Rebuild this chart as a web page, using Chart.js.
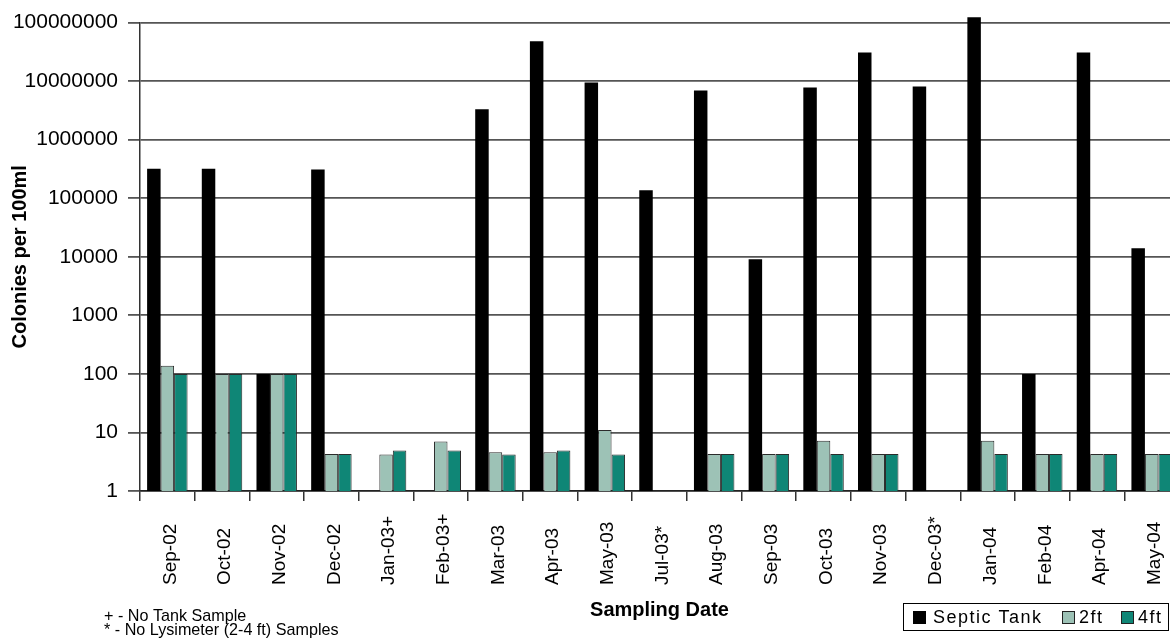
<!DOCTYPE html>
<html>
<head>
<meta charset="utf-8">
<script src="https://cdn.jsdelivr.net/npm/chart.js@4"></script>
<style>
  html, body { margin: 0; padding: 0; background: #fff; overflow: hidden; }
  #wrap { width: 1180px; height: 639px; }
</style>
</head>
<body>
<div id="wrap"><canvas id="myChart"></canvas></div>
<script>
// sampling dates (+ = no tank sample, * = no lysimeter samples)
var dates = ['Sep-02', 'Oct-02', 'Nov-02', 'Dec-02', 'Jan-03+', 'Feb-03+', 'Mar-03', 'Apr-03', 'May-03',
    'Jul-03*', 'Aug-03', 'Sep-03', 'Oct-03', 'Nov-03', 'Dec-03*', 'Jan-04', 'Feb-04', 'Apr-04', 'May-04'];

var septicTank = [320000, 320000, 100, 310000, null, null, 3300000, 48000000, 9500000,
    137000, 6900000, 9100, 7800000, 31000000, 8100000, 123000000, 100, 31000000, 14000];
var ft2 = [138, 100, 100, 4.3, 4.2, 7.0, 4.6, 4.6, 11,
    null, 4.3, 4.3, 7.2, 4.3, null, 7.2, 4.3, 4.3, 4.3];
var ft4 = [100, 100, 100, 4.3, 4.9, 4.9, 4.2, 4.9, 4.2,
    null, 4.3, 4.3, 4.3, 4.3, null, 4.3, 4.3, 4.3, 4.3];

var yTicks = [1, 10, 100, 1000, 10000, 100000, 1000000, 10000000, 100000000];
var notes = ['+ - No Tank Sample', '* - No Lysimeter (2-4 ft) Samples'];

// rotated date labels, lined up at the bottom like the original
var dateLabels = {
    id: 'dateLabels',
    afterDraw: function(chart) {
        var ctx = chart.ctx;
        var xs = chart.scales.x;
        ctx.save();
        ctx.fillStyle = '#000';
        ctx.font = '19px "Liberation Sans", Arial, sans-serif';
        ctx.textAlign = 'left';
        ctx.textBaseline = 'middle';
        chart.data.labels.forEach(function(lab, i) {
            ctx.save();
            ctx.translate(xs.getPixelForTick(i) + 3, 585);
            ctx.rotate(-Math.PI / 2);
            ctx.fillText(lab, 0, 0);
            ctx.restore();
        });
        ctx.restore();
    }
};

// footnotes and boxed legend
var extras = {
    id: 'extras',
    afterDraw: function(chart) {
        var ctx = chart.ctx;
        ctx.save();
        ctx.fillStyle = '#000';
        ctx.textBaseline = 'middle';
        // narrow look for the footnotes
        ctx.save();
        ctx.translate(104, 0);
        ctx.scale(0.95, 1);
        ctx.font = '17px "Liberation Sans", sans-serif';
        ctx.fillText(notes[0], 0, 616);
        ctx.fillText(notes[1], 0, 630);
        ctx.restore();

        ctx.strokeStyle = '#000';
        ctx.lineWidth = 1;
        ctx.strokeRect(903.5, 603.5, 265, 27);
        ctx.font = '18px "Liberation Sans", Arial, sans-serif';
        ctx.letterSpacing = '1.5px';
        var xPos = [913, 1062, 1121];
        chart.data.datasets.forEach(function(ds, i) {
            ctx.fillStyle = ds.backgroundColor;
            ctx.fillRect(xPos[i], 611, 13, 13);
            if (ds.borderWidth) {
                ctx.strokeStyle = '#222';
                ctx.strokeRect(xPos[i] + 0.5, 611.5, 12, 12);
            }
            ctx.fillStyle = '#000';
            ctx.fillText(ds.label, xPos[i] + (i === 0 ? 20 : 17), 618);
        });
        ctx.restore();
    }
};

var ctx = document.getElementById('myChart').getContext('2d');
var myChart = new Chart(ctx, {
    type: 'bar',
    data: {
        labels: dates,
        datasets: [{
            label: 'Septic Tank',
            data: septicTank,
            backgroundColor: '#000000',
            borderWidth: 0,
            clip: false
        }, {
            label: '2ft',
            data: ft2,
            backgroundColor: '#9dc2b6',
            borderColor: '#2b2b2b',
            borderWidth: 1
        }, {
            label: '4ft',
            data: ft4,
            backgroundColor: '#0f8676',
            borderColor: '#2b2b2b',
            borderWidth: 1
        }]
    },
    options: {
        responsive: true,
        maintainAspectRatio: false,
        animation: false,
        categoryPercentage: 0.74,
        barPercentage: 1,
        layout: { padding: { top: 22, right: 1, bottom: 0, left: 0 } },
        plugins: {
            legend: { display: false },
            tooltip: { enabled: false }
        },
        scales: {
            x: {
                ticks: { display: false },
                grid: {
                    offset: true,
                    drawOnChartArea: false,
                    tickLength: 10,
                    color: '#333',
                    lineWidth: 1.5
                },
                border: { color: '#222', width: 1.5 },
                title: {
                    display: true,
                    text: 'Sampling Date',
                    color: '#000',
                    font: { family: '"Liberation Sans", Arial, sans-serif', size: 20, weight: 'bold' },
                    padding: { top: 0, bottom: 17 }
                },
                afterFit: function(scale) { scale.height = 148; }
            },
            y: {
                type: 'logarithmic',
                min: 1,
                max: 100000000,
                afterBuildTicks: function(scale) {
                    scale.ticks = yTicks.map(function(v) { return { value: v }; });
                },
                ticks: {
                    color: '#000',
                    padding: 10,
                    font: { family: '"Liberation Sans", Arial, sans-serif', size: 21 },
                    callback: function(v) { return String(v); }
                },
                grid: { color: '#555', lineWidth: 1.8, tickLength: 12 },
                border: { color: '#333', width: 1.5 },
                title: {
                    display: true,
                    text: 'Colonies per 100ml',
                    color: '#000',
                    font: { family: '"Liberation Sans", Arial, sans-serif', size: 20, weight: 'bold' },
                    padding: { top: 8, bottom: 0 }
                },
                afterFit: function(scale) { scale.width = 140; }
            }
        }
    },
    plugins: [dateLabels, extras]
});
</script>
</body>
</html>
